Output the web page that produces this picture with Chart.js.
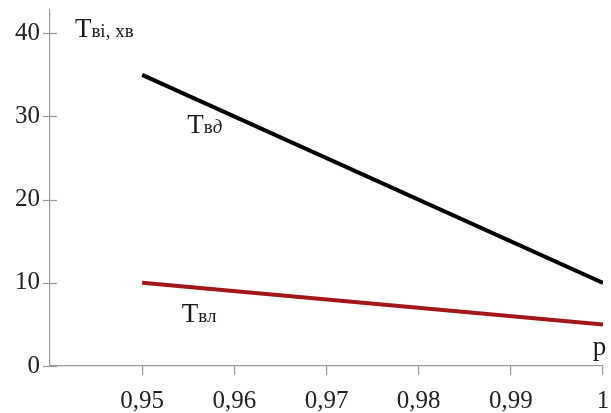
<!DOCTYPE html>
<html>
<head>
<meta charset="utf-8">
<script src="https://cdn.jsdelivr.net/npm/chart.js@4"></script>
<style>
  html, body { margin: 0; padding: 0; background: #fff; }
  #wrap { width: 611px; height: 413px; }
</style>
</head>
<body>
<div id="wrap"><canvas id="c" width="611" height="413"></canvas></div>
<script>
// Probability of operation p and the two recovery times (minutes)
const pValues = [0.95, 1.0];
const tvdValues = [35, 10];   // Твд
const tvlValues = [10, 5];    // Твл
const xTickValues = [0.95, 0.96, 0.97, 0.98, 0.99, 1];
const xTickLabels = ['0,95', '0,96', '0,97', '0,98', '0,99', '1'];
const yTickValues = [0, 10, 20, 30, 40];

const AXIS = '#9a9a9a';
const SERIF = '"Liberation Serif", "Times New Roman", serif';

const toPoints = (xs, ys) => xs.map((x, i) => ({ x, y: ys[i] }));

// Text labels placed in data coordinates; each is a list of runs with its own font
const textLabels = [
  { x: 0.9427, y: 39.6, runs: [
      { t: 'Т', size: 27 }, { t: 'ві', size: 19 }, { t: ', хв', size: 19 } ] },
  { x: 0.9549, y: 28.0, runs: [
      { t: 'Т', size: 27 }, { t: 'в', size: 19 }, { t: 'д', size: 19, italic: true } ] },
  { x: 0.9543, y: 5.3, runs: [
      { t: 'Т', size: 27 }, { t: 'вл', size: 19 } ] },
  { x: 0.9989, y: 1.3, runs: [ { t: 'p', size: 27 } ] }
];

const decorations = {
  id: 'decorations',
  afterDraw(chart) {
    const { ctx, scales: { x, y } } = chart;
    ctx.save();
    // y tick marks crossing the axis
    ctx.strokeStyle = AXIS;
    ctx.lineWidth = 1.2;
    const ax = x.getPixelForValue(x.min);
    yTickValues.forEach(v => {
      const py = Math.round(y.getPixelForValue(v)) + 0.5;
      ctx.beginPath();
      ctx.moveTo(ax - 7, py);
      ctx.lineTo(ax + 7, py);
      ctx.stroke();
    });

    // text labels
    ctx.fillStyle = '#1a1a1a';
    ctx.textBaseline = 'alphabetic';
    ctx.textAlign = 'left';
    textLabels.forEach(lbl => {
      let px = x.getPixelForValue(lbl.x);
      const py = y.getPixelForValue(lbl.y);
      lbl.runs.forEach(r => {
        ctx.font = (r.italic ? 'italic ' : '') + r.size + 'px ' + SERIF;
        ctx.fillText(r.t, px, py);
        px += ctx.measureText(r.t).width;
      });
    });
    ctx.restore();
  }
};

new Chart(document.getElementById('c'), {
  type: 'line',
  data: {
    datasets: [
      {
        label: 'Твд',
        data: toPoints(pValues, tvdValues),
        borderColor: '#000000',
        borderWidth: 4,
        pointRadius: 0,
        tension: 0
      },
      {
        label: 'Твл',
        data: toPoints(pValues, tvlValues),
        borderColor: '#a3161a',
        borderWidth: 4,
        pointRadius: 0,
        tension: 0
      }
    ]
  },
  options: {
    responsive: false,
    devicePixelRatio: 1,
    animation: false,
    layout: { padding: { top: 10, right: 8, left: 0, bottom: 0 } },
    plugins: {
      legend: { display: false },
      tooltip: { enabled: false }
    },
    scales: {
      x: {
        type: 'linear',
        min: 0.94,
        max: 1,
        afterBuildTicks: s => { s.ticks = xTickValues.map(v => ({ value: v })); },
        afterFit: s => { s.height = 47; s.paddingLeft = 0; s.paddingRight = 0; },
        ticks: {
          autoSkip: false,
          maxRotation: 0,
          padding: 11,
          color: '#222',
          font: { family: SERIF, size: 25 },
          callback: v => {
            const i = xTickValues.findIndex(t => Math.abs(t - v) < 1e-9);
            return i >= 0 ? xTickLabels[i] : '';
          }
        },
        grid: {
          drawOnChartArea: false,
          drawTicks: true,
          tickLength: 9,
          color: AXIS,
          lineWidth: 1.2
        },
        border: { display: true, color: AXIS, width: 1.2 }
      },
      y: {
        type: 'linear',
        min: 0,
        max: 42.8,
        afterBuildTicks: s => { s.ticks = yTickValues.map(v => ({ value: v })); },
        afterFit: s => { s.width = 50; s.paddingTop = 0; s.paddingBottom = 0; },
        ticks: {
          padding: 10,
          color: '#222',
          font: { family: SERIF, size: 25 },
          callback: v => String(v)
        },
        grid: { display: false, drawTicks: false },
        border: { display: true, color: AXIS, width: 1.2 }
      }
    }
  },
  plugins: [decorations]
});
</script>
</body>
</html>
